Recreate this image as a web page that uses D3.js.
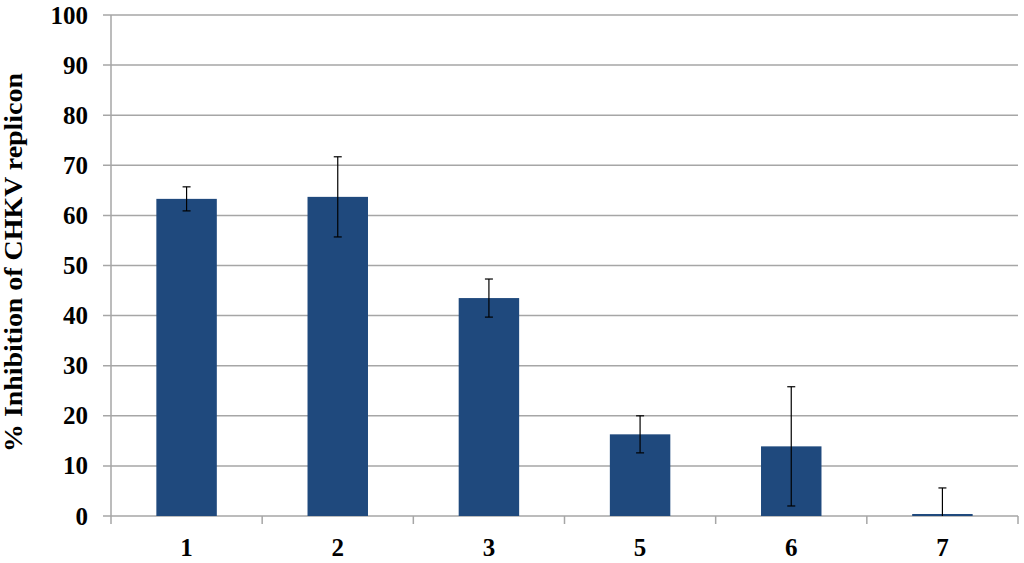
<!DOCTYPE html>
<html>
<head>
<meta charset="utf-8">
<script src="https://cdn.jsdelivr.net/npm/d3@7/dist/d3.min.js"></script>
<style>
  html, body { margin: 0; padding: 0; background: #ffffff; }
  svg { display: block; }
  text { font-family: "Liberation Serif", "Times New Roman", serif; font-weight: bold; fill: #000; }
</style>
</head>
<body>
<svg id="chart" width="1024" height="563"></svg>
<script>
const categories = ["1", "2", "3", "5", "6", "7"];
const values = [63.3, 63.7, 43.5, 16.3, 13.9, 0.4];
const errors = [2.4, 8.0, 3.8, 3.7, 11.9, 5.2];
const yTicks = [0, 10, 20, 30, 40, 50, 60, 70, 80, 90, 100];
const yLabel = "% Inhibition of CHKV replicon";

(function () {
const svg = d3.select("#chart");
const pLeft = 111, pRight = 1018, pTop = 15, pBottom = 516;

const x = d3.scaleBand().domain(categories).range([pLeft, pRight]).paddingInner(0.6).paddingOuter(0.3);
const y = d3.scaleLinear().domain([0, 100]).range([pBottom, pTop]);

// gridlines
svg.append("g").selectAll("line").data(yTicks).join("line")
  .attr("x1", pLeft - 8).attr("x2", pRight)
  .attr("y1", d => y(d)).attr("y2", d => y(d))
  .attr("stroke", "#a6a6a6").attr("stroke-width", 1.5);

// y axis line
svg.append("line").attr("x1", pLeft).attr("x2", pLeft).attr("y1", pTop).attr("y2", pBottom + 8)
  .attr("stroke", "#a6a6a6").attr("stroke-width", 1.5);

// x ticks (band boundaries)
const step = x.step();
const bounds = d3.range(categories.length + 1).map(i => pLeft + i * step);
svg.append("g").selectAll("line").data(bounds.slice(1)).join("line")
  .attr("x1", d => d).attr("x2", d => d)
  .attr("y1", pBottom).attr("y2", pBottom + 8)
  .attr("stroke", "#a6a6a6").attr("stroke-width", 1.5);

// bars
svg.append("g").selectAll("rect").data(values).join("rect")
  .attr("x", (d, i) => x(categories[i]))
  .attr("width", x.bandwidth())
  .attr("y", d => y(d))
  .attr("height", d => y(0) - y(d))
  .attr("fill", "#1f497d");

// error bars
const eg = svg.append("g").attr("stroke", "#000").attr("stroke-width", 1.2);
values.forEach((v, i) => {
  const cx = x(categories[i]) + x.bandwidth() / 2;
  const hi = v + errors[i];
  const lo = Math.max(0, v - errors[i]);
  eg.append("line").attr("x1", cx).attr("x2", cx).attr("y1", y(hi)).attr("y2", y(lo));
  eg.append("line").attr("x1", cx - 4).attr("x2", cx + 4).attr("y1", y(hi)).attr("y2", y(hi));
  if (v - errors[i] >= 0) {
    eg.append("line").attr("x1", cx - 4).attr("x2", cx + 4).attr("y1", y(lo)).attr("y2", y(lo));
  }
});

// y tick labels
svg.append("g").selectAll("text").data(yTicks).join("text")
  .attr("x", 88).attr("y", d => y(d))
  .attr("dy", "0.34em")
  .attr("text-anchor", "end")
  .attr("font-size", 25)
  .text(d => d);

// x tick labels
svg.append("g").selectAll("text").data(categories).join("text")
  .attr("x", d => x(d) + x.bandwidth() / 2)
  .attr("y", 556)
  .attr("text-anchor", "middle")
  .attr("font-size", 25)
  .text(d => d);

// y axis title
svg.append("text")
  .attr("transform", `translate(22, ${(73 + 452) / 2}) rotate(-90)`)
  .attr("text-anchor", "middle")
  .attr("font-size", 25.5)
  .attr("textLength", 379)
  .attr("lengthAdjust", "spacingAndGlyphs")
  .text(yLabel);
})();
</script>
</body>
</html>
